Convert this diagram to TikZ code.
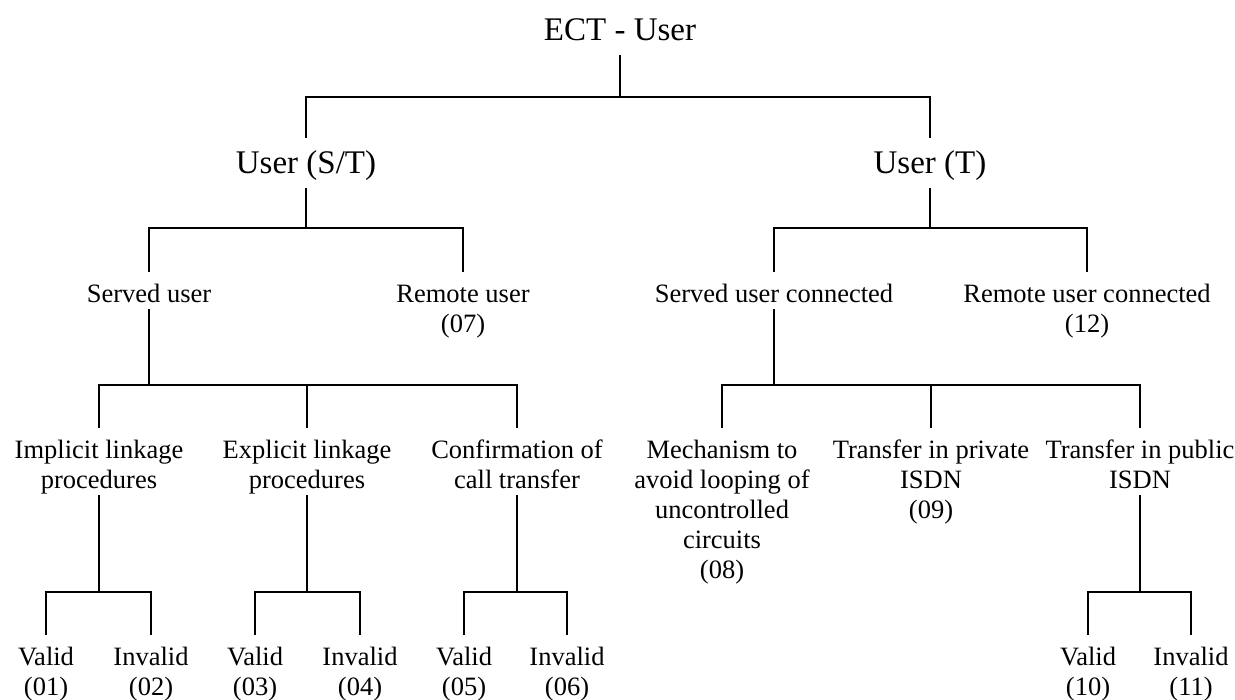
\documentclass[tikz,border=0pt]{standalone}
\usepackage{fontspec}
\setmainfont{Liberation Serif}
\newcommand\smallf{\fontsize{13.25pt}{15pt}\selectfont}
\newcommand\bigf{\fontsize{16.5pt}{19pt}\selectfont}
\newcommand\topS{\rule{0pt}{15pt}}
\newcommand\botS{\rule[-3.25pt]{0pt}{3.25pt}}
\newcommand\topB{\rule{0pt}{17.5pt}}
\newcommand\botB{\rule[-7pt]{0pt}{7pt}}
\tikzset{
  lbl/.style={font=\smallf, align=center, inner sep=0pt, anchor=north, text=black},
  biglbl/.style={font=\bigf, align=center, inner sep=0pt, anchor=north, text=black},
  conn/.style={draw=black, line width=1.2pt}
}
\begin{document}
\begin{tikzpicture}[x=0.5pt, y=-0.5pt]
\useasboundingbox (0,0) rectangle (1235,700);
% nodes
\node[biglbl] (root) at (620,5) {\topB\botB ECT - User};
\node[biglbl] (st) at (306,138) {\topB\botB User (S/T)};
\node[biglbl] (t)  at (930,138) {\topB\botB User (T)};
\node[lbl] (su)  at (149,272) {\topS\botS Served user};
\node[lbl] (ru)  at (463,272) {\topS Remote user\\(07)\botS};
\node[lbl] (suc) at (774,272) {\topS\botS Served user connected};
\node[lbl] (ruc) at (1087,272) {\topS Remote user connected\\(12)\botS};
\node[lbl] (il)  at (99,428)  {\topS Implicit linkage\\procedures\botS};
\node[lbl] (el)  at (307,428) {\topS Explicit linkage\\procedures\botS};
\node[lbl] (ct)  at (517,428) {\topS Confirmation of\\call transfer\botS};
\node[lbl] (me)  at (722,428) {\topS Mechanism to\\avoid looping of\\uncontrolled\\circuits\\(08)\botS};
\node[lbl] (tpr) at (931,428) {\topS Transfer in private\\ISDN\\(09)\botS};
\node[lbl] (tpu) at (1140,428) {\topS Transfer in public\\ISDN\botS};
\node[lbl] (v1)  at (46,635)  {\topS Valid\\(01)\botS};
\node[lbl] (i2)  at (151,635) {\topS Invalid\\(02)\botS};
\node[lbl] (v3)  at (255,635) {\topS Valid\\(03)\botS};
\node[lbl] (i4)  at (360,635) {\topS Invalid\\(04)\botS};
\node[lbl] (v5)  at (464,635) {\topS Valid\\(05)\botS};
\node[lbl] (i6)  at (567,635) {\topS Invalid\\(06)\botS};
\node[lbl] (v10) at (1088,635) {\topS Valid\\(10)\botS};
\node[lbl] (i11) at (1191,635) {\topS Invalid\\(11)\botS};
% bar heights
\coordinate (b0) at (0,97);
\coordinate (b1) at (0,228);
\coordinate (b2) at (0,385);
\coordinate (b3) at (0,592);
% connectors
\draw[conn] (root.south) -- (root.south |- b0);
\draw[conn] (st.north) -- (st.north |- b0) -- (t.north |- b0) -- (t.north);
\draw[conn] (st.south) -- (st.south |- b1);
\draw[conn] (su.north) -- (su.north |- b1) -- (ru.north |- b1) -- (ru.north);
\draw[conn] (t.south) -- (t.south |- b1);
\draw[conn] (suc.north) -- (suc.north |- b1) -- (ruc.north |- b1) -- (ruc.north);
\draw[conn] (su.south) -- (su.south |- b2);
\draw[conn] (il.north) -- (il.north |- b2) -- (ct.north |- b2) -- (ct.north);
\draw[conn] (el.north) -- (el.north |- b2);
\draw[conn] (suc.south) -- (suc.south |- b2);
\draw[conn] (me.north) -- (me.north |- b2) -- (tpu.north |- b2) -- (tpu.north);
\draw[conn] (tpr.north) -- (tpr.north |- b2);
\draw[conn] (il.south) -- (il.south |- b3);
\draw[conn] (v1.north) -- (v1.north |- b3) -- (i2.north |- b3) -- (i2.north);
\draw[conn] (el.south) -- (el.south |- b3);
\draw[conn] (v3.north) -- (v3.north |- b3) -- (i4.north |- b3) -- (i4.north);
\draw[conn] (ct.south) -- (ct.south |- b3);
\draw[conn] (v5.north) -- (v5.north |- b3) -- (i6.north |- b3) -- (i6.north);
\draw[conn] (tpu.south) -- (tpu.south |- b3);
\draw[conn] (v10.north) -- (v10.north |- b3) -- (i11.north |- b3) -- (i11.north);
\end{tikzpicture}
\end{document}
